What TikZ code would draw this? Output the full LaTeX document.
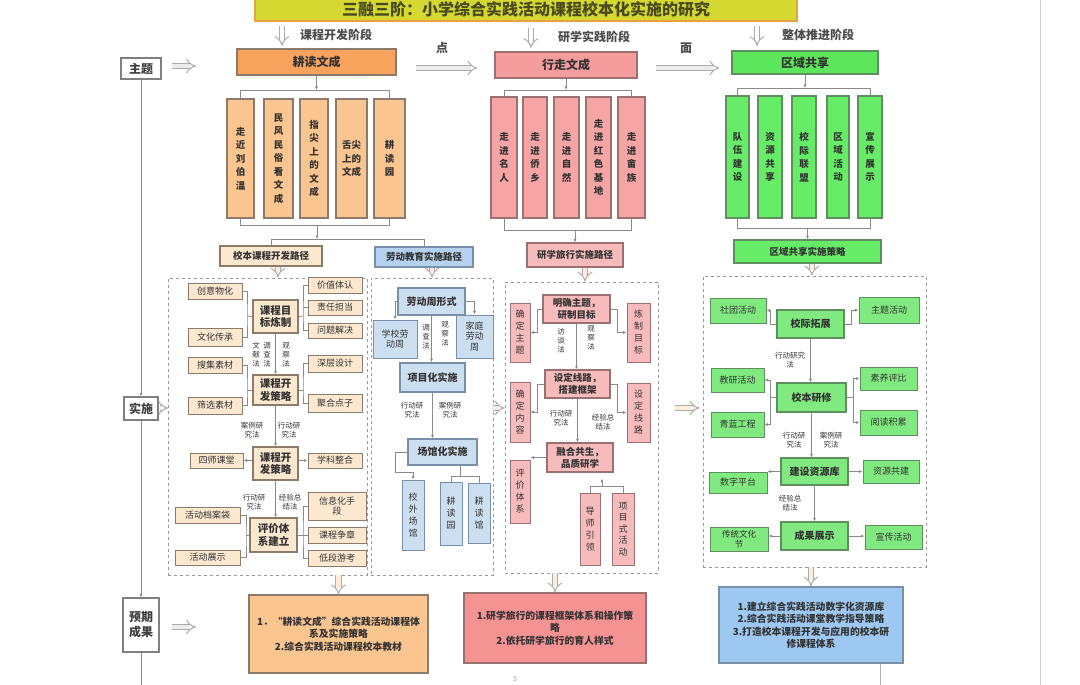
\documentclass[tikz,border=0pt]{standalone}
\usepackage{fontspec}
\setmainfont{Noto Sans CJK SC}
\usetikzlibrary{arrows.meta,calc}
\definecolor{txt}{HTML}{333333}
\definecolor{gl}{HTML}{8A8A8A}
\definecolor{ttl}{HTML}{D6D832}
\definecolor{ttlbd}{HTML}{E8A040}
\definecolor{ttltxt}{HTML}{4A4A20}
\definecolor{ora}{HTML}{F7A35E}
\definecolor{orb}{HTML}{FBC590}
\definecolor{orl}{HTML}{FCE7CF}
\definecolor{orbd}{HTML}{8C7A6B}
\definecolor{pnk}{HTML}{F59C9C}
\definecolor{pnb}{HTML}{F6A4A4}
\definecolor{pnl}{HTML}{F7BBBB}
\definecolor{pnr}{HTML}{F59393}
\definecolor{pnbd}{HTML}{9A7070}
\definecolor{grn}{HTML}{5BE65B}
\definecolor{grb}{HTML}{66EC66}
\definecolor{grl}{HTML}{80EA80}
\definecolor{grbd}{HTML}{5F8F5F}
\definecolor{blu}{HTML}{CCDFF1}
\definecolor{blub}{HTML}{B4D1EE}
\definecolor{blur}{HTML}{9DC8F2}
\definecolor{blbd}{HTML}{7890A8}
\newcommand\bx[7]{\node[#6,minimum width={#4-#2},minimum height={#5-#3}] (#1) at ({(#2+#4)/2},{(#3+#5)/2}) {#7};}
\begin{document}
\begin{tikzpicture}[x=1pt,y=-1pt,
  base/.style={line width=1pt,inner sep=0pt,align=center,text=txt},
  hdr/.style={base,line width=1.3pt,font=\fontsize{12}{14}\selectfont\bfseries},
  vb/.style={base,line width=1.2pt,font=\fontsize{9.5}{13.5}\selectfont\bfseries},
  pth/.style={base,line width=1.2pt,font=\fontsize{9.5}{11}\selectfont\bfseries},
  sm/.style={base,font=\fontsize{9}{10.5}\selectfont},
  mid/.style={base,line width=1.3pt,font=\fontsize{10.5}{12.5}\selectfont\bfseries},
  sv/.style={base,font=\fontsize{9}{12}\selectfont},
  lab/.style={inner sep=0pt,align=center,text=txt,font=\fontsize{7.5}{9}\selectfont},
  lbl/.style={base,draw=gray,fill=white,line width=1.3pt,font=\fontsize{12}{15}\selectfont\bfseries,text=black!75},
  res/.style={base,line width=1.3pt,font=\fontsize{9.8}{12.5}\selectfont\bfseries},
  ln/.style={draw=gl,line width=0.8pt},
  a/.style={ln,-{Latex[length=3.5pt,width=3pt]}},
  hollow/.style={draw=gray!65,line width=1pt,double=#1,double distance=4.2pt,-{Implies}},
  hollow/.default=gray!15,
  reg/.style={draw=gray!80,dashed,line width=0.8pt,inner sep=0pt},
  ph/.style={inner sep=0pt,text=black!70,font=\fontsize{12}{14}\selectfont\bfseries}]
\useasboundingbox (0,0) rectangle (1080,685);
\fill[white] (0,0) rectangle (1080,685);
\draw[gray!35,line width=0.8pt] (1040,0) -- (1040,685);

% title
\node[draw=ttlbd,fill=ttl,line width=1.3pt,minimum width=542,minimum height=24,inner sep=0pt,
  font=\fontsize{16}{18}\selectfont\bfseries,text=ttltxt] (title) at (526,9) {三融三阶：小学综合实践活动课程校本化实施的研究};

% phase labels
\node[ph] (ph1) at (336,35) {课程开发阶段};
\node[ph] (ph2) at (594,37) {研学实践阶段};
\node[ph] (ph3) at (818,35) {整体推进阶段};
\node[ph] (dian) at (442,48) {点};
\node[ph] (mian) at (686,48) {面};
\coordinate (pa) at (282,26); \coordinate (pb) at (282,46);
\coordinate (pc) at (531,28); \coordinate (pd) at (531,48);
\coordinate (pe) at (757,26); \coordinate (pf) at (757,46);
\draw[hollow=white] (pa) -- (pb);
\draw[hollow=white] (pc) -- (pd);
\draw[hollow=white] (pe) -- (pf);

% headers
\bx{h1}{237}{49}{396}{75}{hdr,draw=orbd,fill=ora}{耕读文成}
\bx{h2}{495}{52}{637}{78}{hdr,draw=pnbd,fill=pnk}{行走文成}
\bx{h3}{732}{51}{878}{74}{hdr,draw=grbd,fill=grn}{区域共享}
\draw[hollow,shorten <=19pt,shorten >=17pt] (h1.east |- 0,68) -- (h2.west |- 0,68);
\draw[hollow,shorten <=18pt,shorten >=12pt] (h2.east |- 0,68) -- (h3.west |- 0,68);

% left labels
\bx{zt}{121}{58}{161}{79}{lbl}{主题}
\bx{ss}{124}{397}{158}{420}{lbl}{实施}
\bx{yq}{123}{598}{159}{652}{lbl}{预期\\成果}
\coordinate (ztA) at (196,66);
\draw[hollow,shorten <=10pt] (zt.east |- ztA) -- (ztA);
\draw[a] (zt.south) -- (ss.north);
\draw[a] (ss.south) -- (yq.north);
\coordinate (yqB) at (141,685);
\draw[ln] (yq.south) -- (yqB);
\coordinate (ssA) at (168,408);
\draw[hollow,shorten <=1pt] (ss.east |- ssA) -- (ssA);
\coordinate (yqA) at (196,627);
\draw[hollow,shorten <=12pt] (yq.east |- yqA) -- (yqA);

% orange vertical boxes
\bx{o1}{227}{99}{254}{218}{vb,draw=orbd,fill=orb}{走\\近\\刘\\伯\\温}
\bx{o2}{264}{99}{293}{218}{vb,draw=orbd,fill=orb}{民\\风\\民\\俗\\看\\文\\成}
\bx{o3}{300}{99}{328}{218}{vb,draw=orbd,fill=orb}{指\\尖\\上\\的\\文\\成}
\bx{o4}{336}{99}{367}{218}{vb,draw=orbd,fill=orb}{舌尖\\上的\\文成}
\bx{o5}{374}{99}{405}{218}{vb,draw=orbd,fill=orb}{耕\\读\\园}
\coordinate (ot) at (0,90); \coordinate (ob) at (0,225); \coordinate (ol) at (0,239);
\draw[a] (h1.south) -- (h1.south |- ot);
\draw[ln] (o1.north) -- (o1.north |- ot) -- (o5.north |- ot) -- (o5.north);
\draw[ln] (o1.south) -- (o1.south |- ob) -- (o5.south |- ob) -- (o5.south);
\coordinate (obm) at (317,225);
\draw[a] (obm) -- (obm |- ol);

% pink vertical boxes
\bx{p1}{491}{97}{517}{218}{vb,draw=pnbd,fill=pnb}{走\\进\\名\\人}
\bx{p2}{523}{97}{547}{218}{vb,draw=pnbd,fill=pnb}{走\\进\\侨\\乡}
\bx{p3}{554}{97}{579}{218}{vb,draw=pnbd,fill=pnb}{走\\进\\自\\然}
\bx{p4}{586}{97}{611}{218}{vb,draw=pnbd,fill=pnb}{走\\进\\红\\色\\基\\地}
\bx{p5}{618}{97}{645}{218}{vb,draw=pnbd,fill=pnb}{走\\进\\畲\\族}
\coordinate (pt) at (0,90); \coordinate (pbb) at (0,230);
\draw[a] (h2.south) -- (h2.south |- pt);
\draw[ln] (p1.north) -- (p1.north |- pt) -- (p5.north |- pt) -- (p5.north);
\draw[ln] (p1.south) -- (p1.south |- pbb) -- (p5.south |- pbb) -- (p5.south);

% green vertical boxes
\bx{g1}{726}{96}{749}{218}{vb,draw=grbd,fill=grb}{队\\伍\\建\\设}
\bx{g2}{758}{96}{782}{218}{vb,draw=grbd,fill=grb}{资\\源\\共\\享}
\bx{g3}{792}{96}{816}{218}{vb,draw=grbd,fill=grb}{校\\际\\联\\盟}
\bx{g4}{827}{96}{849}{218}{vb,draw=grbd,fill=grb}{区\\域\\活\\动}
\bx{g5}{858}{96}{882}{218}{vb,draw=grbd,fill=grb}{宣\\传\\展\\示}
\coordinate (gt) at (0,88); \coordinate (gb) at (0,228);
\draw[a] (h3.south) -- (h3.south |- gt);
\draw[ln] (g1.north) -- (g1.north |- gt) -- (g5.north |- gt) -- (g5.north);
\draw[ln] (g1.south) -- (g1.south |- gb) -- (g5.south |- gb) -- (g5.south);

% path boxes
\bx{pa1}{220}{246}{322}{266}{pth,draw=orbd,fill=orl}{校本课程开发路径}
\bx{pa2}{375}{247}{473}{267}{pth,draw=blbd,fill=blub}{劳动教育实施路径}
\bx{pa3}{527}{243}{623}{267}{pth,draw=pnbd,fill=pnl}{研学旅行实施路径}
\bx{pa4}{734}{240}{881}{263}{pth,draw=grbd,fill=grb}{区域共享实施策略}
\draw[ln] (pa1.north) -- (pa1.north |- ol) -- (pa2.north |- ol) -- (pa2.north);
\draw[a] (pa3.north |- pbb) -- (pa3.north);
\draw[a] (pa4.north |- gb) -- (pa4.north);

% regions
\bx{r1}{168}{278}{367}{575}{reg}{}
\bx{r2}{371}{278}{493}{575}{reg}{}
\bx{r3}{505}{282}{658}{573}{reg}{}
\bx{r4}{703}{276}{926}{567}{reg}{}
\draw[hollow=orange!15] (pa1.south -| 278,0) -- (r1.north -| 278,0);
\draw[hollow=orange!15] (pa2.south -| 432,0) -- (r2.north -| 432,0);
\draw[hollow=orange!15] (pa3.south -| 585,0) -- (r3.north -| 585,0);
\draw[hollow=orange!15] (pa4.south -| 812,0) -- (r4.north -| 812,0);
\coordinate (rr) at (0,408);
\draw[hollow=pink!40] (r2.east |- rr) -- (r3.west |- rr);
\draw[hollow=orange!15,shorten <=17pt,shorten >=3pt] (r3.east |- rr) -- (r4.west |- rr);

% ---- left section
\bx{m1}{253}{300}{298}{333}{mid,draw=orbd,fill=orl}{课程目\\标炼制}
\bx{m2}{253}{375}{298}{405}{mid,draw=orbd,fill=orl}{课程开\\发策略}
\bx{m3}{253}{447}{298}{480}{mid,draw=orbd,fill=orl}{课程开\\发策略}
\bx{m4}{250}{518}{297}{552}{mid,draw=orbd,fill=orl}{评价体\\系建立}
\bx{cy}{188}{283}{242}{299}{sm,draw=orbd,fill=orl}{创意物化}
\bx{wh}{188}{328}{242}{346}{sm,draw=orbd,fill=orl}{文化传承}
\bx{sj}{188}{357}{242}{373}{sm,draw=orbd,fill=orl}{搜集素材}
\bx{sx}{188}{397}{242}{414}{sm,draw=orbd,fill=orl}{筛选素材}
\bx{sk}{190}{453}{243}{468}{sm,draw=orbd,fill=orl}{四师课堂}
\bx{da}{175}{507}{240}{523}{sm,draw=orbd,fill=orl}{活动档案袋}
\bx{zs}{175}{550}{240}{565}{sm,draw=orbd,fill=orl}{活动展示}
\bx{jz}{308}{277}{362}{293}{sm,draw=orbd,fill=orl}{价值体认}
\bx{zr}{308}{300}{362}{315}{sm,draw=orbd,fill=orl}{责任担当}
\bx{wt}{308}{323}{362}{338}{sm,draw=orbd,fill=orl}{问题解决}
\bx{sc}{308}{355}{362}{372}{sm,draw=orbd,fill=orl}{深层设计}
\bx{jh}{308}{394}{362}{412}{sm,draw=orbd,fill=orl}{聚合点子}
\bx{xk}{308}{453}{362}{468}{sm,draw=orbd,fill=orl}{学科整合}
\bx{xx}{308}{492}{366}{520}{sm,draw=orbd,fill=orl}{信息化手\\段}
\bx{zz}{308}{527}{366}{543}{sm,draw=orbd,fill=orl}{课程争章}
\bx{dy}{308}{550}{366}{566}{sm,draw=orbd,fill=orl}{低段游考}
\node[lab] (l1) at (256,355) {文\\献\\法};
\node[lab] (l2) at (267,355) {调\\查\\法};
\node[lab] (l3) at (286,355) {观\\察\\法};
\node[lab] (l4) at (252,430) {案例研\\究法};
\node[lab] (l5) at (289,430) {行动研\\究法};
\node[lab] (l6) at (254,502) {行动研\\究法};
\node[lab] (l7) at (290,502) {经验总\\结法};
\draw[a] (m1.south) -- (m1.south |- m2.north);
\draw[a] (m2.south) -- (m2.south |- m3.north);
\draw[a] (m3.south) -- (m3.south |- m4.north);
\coordinate (L1) at (247,316); \coordinate (R1) at (303,316);
\draw[ln] (cy.east) -| (L1) |- (wh.east); \draw[ln] (m1.west) -- (L1);
\draw[ln] (jz.west) -| (R1) |- (wt.west); \draw[ln] (zr.west) -- (zr.west -| R1); \draw[ln] (m1.east) -- (R1);
\coordinate (L2) at (247,390); \coordinate (R2) at (303,390);
\draw[ln] (sj.east) -| (L2) |- (sx.east); \draw[ln] (m2.west) -- (L2);
\draw[ln] (sc.west) -| (R2) |- (jh.west); \draw[ln] (m2.east) -- (R2);
\draw[a] (m3.west |- sk) -- (sk.east);
\draw[a] (m3.east |- xk) -- (xk.west);
\coordinate (L4) at (246,535); \coordinate (R4) at (303,535);
\draw[ln] (da.east) -| (L4) |- (zs.east); \draw[ln] (m4.west) -- (L4);
\draw[ln] (xx.west) -| (R4) |- (dy.west); \draw[ln] (zz.west) -- (zz.west -| R4); \draw[ln] (m4.east) -- (R4);

% ---- labour section
\bx{lw}{398}{288}{465}{315}{mid,font=\fontsize{10}{12}\selectfont\bfseries,draw=blbd,fill=blu}{劳动周形式}
\bx{xl}{373}{320}{417}{358}{sm,draw=blbd,fill=blu}{学校劳\\动周}
\bx{jt}{456}{315}{493}{358}{sm,draw=blbd,fill=blu}{家庭\\劳动\\周}
\bx{xm}{400}{363}{465}{392}{mid,font=\fontsize{10}{12}\selectfont\bfseries,draw=blbd,fill=blu}{项目化实施}
\bx{cg}{408}{439}{477}{465}{mid,font=\fontsize{10}{12}\selectfont\bfseries,draw=blbd,fill=blu}{场馆化实施}
\bx{xw}{402}{480}{424}{550}{sv,draw=blbd,fill=blu}{校\\外\\场\\馆}
\bx{gy}{440}{482}{462}{545}{sv,draw=blbd,fill=blu}{耕\\读\\园}
\bx{gg}{468}{483}{490}{543}{sv,draw=blbd,fill=blu}{耕\\读\\馆}
\node[lab] (l8) at (426,337) {调\\查\\法};
\node[lab] (l9) at (445,334) {观\\察\\法};
\node[lab] (l10) at (412,410) {行动研\\究法};
\node[lab] (l11) at (450,410) {案例研\\究法};
\draw[a] (lw.west) -| (xl.north);
\draw[a] (lw.east) -| (jt.north);
\draw[a] (lw.south) -- (lw.south |- xm.north);
\draw[a] (xm.south) -- (xm.south |- cg.north);
\draw[a] (cg.west) -- ++(-12,0) -- ++(0,20) -| (xw.north);
\coordinate (gbk) at (0,476);
\draw[ln] (gy.north) -- (gy.north |- gbk) -- (gg.north |- gbk) -- (gg.north);
\draw[ln] (cg.south -| 460,0) -- (gbk -| 460,0);

% ---- research section
\bx{q1}{543}{295}{610}{323}{mid,font=\fontsize{9.5}{12}\selectfont\bfseries,draw=pnbd,fill=pnl}{明确主题，\\研制目标}
\bx{q2}{545}{370}{610}{398}{mid,font=\fontsize{9.5}{12}\selectfont\bfseries,draw=pnbd,fill=pnl}{设定线路，\\搭建框架}
\bx{q3}{547}{443}{613}{472}{mid,font=\fontsize{9.5}{12}\selectfont\bfseries,draw=pnbd,fill=pnl}{融合共生，\\品质研学}
\bx{qa}{510}{303}{530}{362}{sv,draw=pnbd,fill=pnl}{确\\定\\主\\题}
\bx{qb}{627}{303}{650}{362}{sv,draw=pnbd,fill=pnl}{炼\\制\\目\\标}
\bx{qc}{510}{382}{530}{442}{sv,draw=pnbd,fill=pnl}{确\\定\\内\\容}
\bx{qd}{627}{383}{650}{442}{sv,draw=pnbd,fill=pnl}{设\\定\\线\\路}
\bx{qe}{510}{460}{530}{523}{sv,draw=pnbd,fill=pnl}{评\\价\\体\\系}
\bx{qf}{580}{493}{600}{565}{sv,draw=pnbd,fill=pnl}{导\\师\\引\\领}
\bx{qg}{612}{493}{634}{565}{sv,font=\fontsize{9}{11.5}\selectfont,draw=pnbd,fill=pnl}{项\\目\\式\\活\\动}
\node[lab] (l12) at (561,341) {访\\谈\\法};
\node[lab] (l13) at (591,338) {观\\察\\法};
\node[lab] (l14) at (561,418) {行动研\\究法};
\node[lab] (l15) at (603,422) {经验总\\结法};
\draw[a] (q1.south) -- (q1.south |- q2.north);
\draw[a] (q2.south) -- (q2.south |- q3.north);
\draw[a] (q1.west) -- ++(-5,0) |- (qa.east);
\draw[a] (q1.east) -- ++(7,0) |- (qb.west);
\draw[a] (q2.west) -- ++(-7,0) |- (qc.east);
\draw[a] (q2.east) -- ++(7,0) |- (qd.west);
\draw[a] (q3.west) -- (q3.west -| qe.east);
\coordinate (qbk) at (602,486);
\draw[ln] (qf.north) -- (qf.north |- qbk) -- (qg.north |- qbk) -- (qg.north);
\draw[a,shorten >=6pt] (qbk) -- (qbk |- q3.south);

% ---- right section
\bx{c1}{710}{298}{766}{323}{sm,draw=grbd,fill=grl}{社团活动}
\bx{c2}{777}{310}{844}{338}{mid,font=\fontsize{10}{12}\selectfont\bfseries,draw=grbd,fill=grl}{校际拓展}
\bx{c3}{859}{297}{919}{323}{sm,draw=grbd,fill=grl}{主题活动}
\bx{c4}{777}{383}{846}{412}{mid,font=\fontsize{10}{12}\selectfont\bfseries,draw=grbd,fill=grl}{校本研修}
\bx{c5}{711}{368}{764}{392}{sm,draw=grbd,fill=grl}{教研活动}
\bx{c6}{711}{412}{764}{437}{sm,draw=grbd,fill=grl}{青蓝工程}
\bx{c7}{860}{367}{917}{390}{sm,draw=grbd,fill=grl}{素养评比}
\bx{c8}{860}{410}{917}{435}{sm,draw=grbd,fill=grl}{阅读积累}
\bx{c9}{781}{458}{848}{485}{mid,font=\fontsize{10}{12}\selectfont\bfseries,draw=grbd,fill=grl}{建设资源库}
\bx{c10}{709}{472}{767}{493}{sm,draw=grbd,fill=grl}{数字平台}
\bx{c11}{863}{460}{919}{483}{sm,draw=grbd,fill=grl}{资源共建}
\bx{c12}{781}{522}{848}{550}{mid,font=\fontsize{10}{12}\selectfont\bfseries,draw=grbd,fill=grl}{成果展示}
\bx{c13}{710}{527}{768}{551}{sm,font=\fontsize{8.5}{9.5}\selectfont,draw=grbd,fill=grl}{传统文化\\节}
\bx{c14}{865}{525}{922}{549}{sm,draw=grbd,fill=grl}{宣传活动}
\node[lab] (l16) at (790,360) {行动研究\\法};
\node[lab] (l17) at (794,440) {行动研\\究法};
\node[lab] (l18) at (831,440) {案例研\\究法};
\node[lab] (l19) at (790,503) {经验总\\结法};
\draw[a] (c2.south) -- (c2.south |- c4.north);
\draw[a] (c4.south) -- (c4.south |- c9.north);
\draw[a] (c9.south) -- (c9.south |- c12.north);
\draw[a] (c2.west) -- ++(-6,0) |- (c1.east);
\draw[a] (c2.east) -- ++(7,0) |- (c3.west);
\draw[a] (c4.west) -- ++(-6,0) |- (c5.east);
\draw[a] (c4.west) -- ++(-6,0) |- (c6.east);
\draw[a] (c4.east) -- ++(7,0) |- (c7.west);
\draw[a] (c4.east) -- ++(7,0) |- (c8.west);
\draw[a] (c9.west) -- (c9.west -| c10.east);
\draw[a] (c9.east) -- (c9.east -| c11.west);
\draw[a] (c12.west) -- (c12.west -| c13.east);
\draw[a] (c12.east) -- (c12.east -| c14.west);

% ---- results
\bx{res1}{249}{595}{428}{673}{res,draw=orbd,fill=orb}{1．“耕读文成”综合实践活动课程体\\系及实施策略\\2.综合实践活动课程校本教材}
\bx{res2}{464}{593}{646}{663}{res,draw=pnbd,fill=pnr}{1.研学旅行的课程框架体系和操作策\\略\\2.依托研学旅行的育人样式}
\bx{res3}{719}{587}{903}{663}{res,draw=blbd,fill=blur}{1.建立综合实践活动数字化资源库\\2.综合实践活动课堂教学指导策略\\3.打造校本课程开发与应用的校本研\\修课程体系}
\draw[hollow=orange!15] (res1.north |- r1.south) -- (res1.north);
\draw[hollow=orange!15] (res2.north |- r3.south) -- (res2.north);
\draw[hollow=orange!15] (res3.north |- r4.south) -- (res3.north);
\coordinate (bl) at (880,685);
\draw[draw=gray!60,line width=0.6pt] (res3.south -| bl) -- (bl);
\node[inner sep=0pt,text=gray!70,font=\fontsize{7}{8}\selectfont] (pg) at (515,679) {5};
\end{tikzpicture}
\end{document}
